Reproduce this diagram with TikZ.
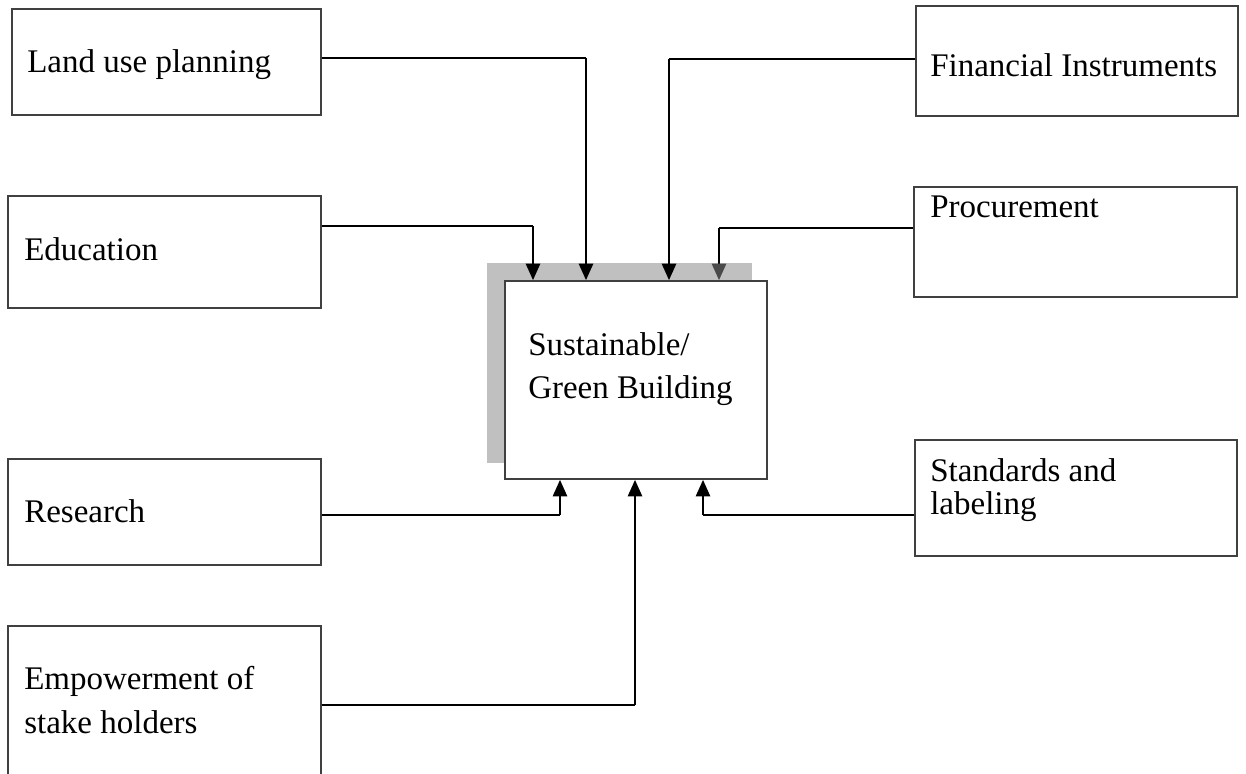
\documentclass[tikz,border=0pt]{standalone}
\usepackage{fontspec}
\setmainfont{Liberation Serif}
\usetikzlibrary{arrows.meta,fit}
\definecolor{boxline}{HTML}{404040}
\definecolor{shadowgray}{HTML}{C0C0C0}
\definecolor{tipgray}{HTML}{4A4A4A}
\tikzset{
  box/.style={draw=boxline, line width=1.1pt, inner sep=0pt, fill=white},
  lbl/.style={anchor=base west, inner sep=0pt, font=\fontsize{24.75pt}{30pt}\selectfont},
  hline/.style={draw=black, line width=0.8pt},
  varrow/.style={draw=black, line width=2.1pt, -{Triangle[length=12.5pt,width=10.5pt]}},
  garrow/.style={draw=black, line width=2.1pt, -{Triangle[length=12.5pt,width=10.5pt,color=tipgray]}}
}
\begin{document}
\begin{tikzpicture}[x=0.75pt,y=-0.75pt]
\useasboundingbox (0,0) rectangle (1246,774);
\clip (0,0) rectangle (1246,774);
\fill[white] (0,0) rectangle (1246,774);

% outer boxes
\node[box, fit={(12,9) (321,115)}] (lu) {};
\node[box, fit={(8,196) (321,308)}] (ed) {};
\node[box, fit={(8,459) (321,565)}] (re) {};
\node[box, fit={(8,626) (321,800)}] (em) {};
\node[box, fit={(916,6) (1238,116)}] (fi) {};
\node[box, fit={(914,187) (1237,297)}] (pr) {};
\node[box, fit={(915,440) (1237,556)}] (st) {};

% central box with shadow
\node[fill=shadowgray, inner sep=0pt, fit={(487,263) (752,463)}] (sh) {};
\node[box, fit={(505,281) (767,479)}] (gb) {};

% labels
\node[lbl] (tlu) at (27,73) {Land use planning};
\node[lbl] (ted) at (24,260) {Education};
\node[lbl] (tre) at (24,522) {Research};
\node[lbl] (tem1) at (24,689) {Empowerment of};
\node[lbl] (tem2) at (24,733) {stake holders};
\node[lbl] (tfi) at (930,77) {Financial Instruments};
\node[lbl] (tpr) at (930,217) {Procurement};
\node[lbl] (tst1) at (930,481) {Standards and};
\node[lbl] (tst2) at (930,514) {labeling};
\node[lbl] (tgb1) at (528,355) {Sustainable/};
\node[lbl] (tgb2) at (528,398) {Green Building};

% corner coordinates
\coordinate (clu) at (586,58);
\coordinate (cfi) at (669,59);
\coordinate (ced) at (533,226);
\coordinate (cpr) at (719,228);
\coordinate (cre) at (560,515);
\coordinate (cem) at (635,705);
\coordinate (cst) at (703,515);

% connectors
\draw[hline] (lu.east |- clu) -- (clu);
\draw[varrow] (clu) -- (gb.north -| clu);
\draw[hline] (fi.west |- cfi) -- (cfi);
\draw[varrow] (cfi) -- (gb.north -| cfi);
\draw[hline] (ed.east |- ced) -- (ced);
\draw[varrow] (ced) -- (gb.north -| ced);
\draw[hline] (pr.west |- cpr) -- (cpr);
\draw[garrow] (cpr) -- (gb.north -| cpr);
\draw[hline] (re.east |- cre) -- (cre);
\draw[varrow] (cre) -- (gb.south -| cre);
\draw[hline] (em.east |- cem) -- (cem);
\draw[varrow] (cem) -- (gb.south -| cem);
\draw[hline] (st.west |- cst) -- (cst);
\draw[varrow] (cst) -- (gb.south -| cst);
\end{tikzpicture}
\end{document}
